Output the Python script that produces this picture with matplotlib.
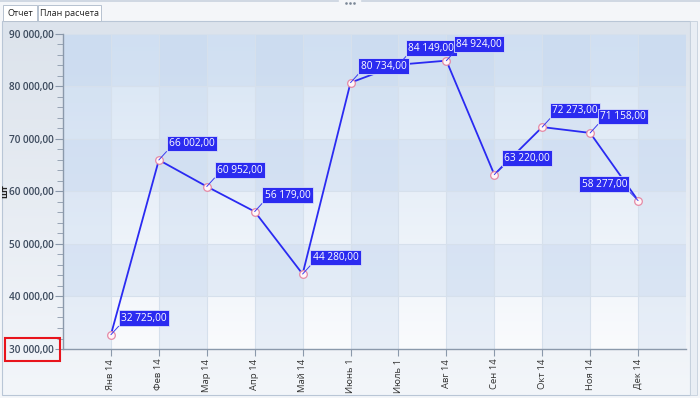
import numpy as np
import matplotlib
matplotlib.use("Agg")
import matplotlib.pyplot as plt
from matplotlib.patches import Rectangle
from matplotlib.ticker import MultipleLocator, FuncFormatter

plt.rcParams['font.family'] = ['Open Sans', 'DejaVu Sans']

# data
months = ["Янв 14", "Фев 14", "Мар 14", "Апр 14", "Май 14", "Июнь 1",
          "Июль 1", "Авг 14", "Сен 14", "Окт 14", "Ноя 14", "Дек 14"]
values = [32725, 66002, 60952, 56179, 44280, 80734,
          84149, 84924, 63220, 72273, 71158, 58277]
tabs = ["Отчет", "План расчета"]
y_label = "шт"


def fmt_num(v, pos=None):
    s = f"{v:,.2f}"
    return s.replace(",", " ").replace(".", ",")


W, H = 700, 398
fig = plt.figure(figsize=(W / 100, H / 100), dpi=100)
fig.patch.set_facecolor("#f4f6f9")

# background panel (pixel coords)
bg = fig.add_axes([0, 0, 1, 1], zorder=-10)
bg.set_xlim(0, W)
bg.set_ylim(H, 0)
bg.axis("off")
grad = np.linspace(0, 1, 256).reshape(-1, 1)
top_c = np.array([0xdc, 0xe3, 0xec]) / 255
bot_c = np.array([0xf3, 0xf6, 0xfa]) / 255
img = top_c + (bot_c - top_c) * grad
bg.imshow(img.reshape(256, 1, 3), extent=[2, 690, 395, 21], aspect="auto", zorder=0)
bg.add_patch(Rectangle((2, 21), 688, 374, fill=False, ec="#b9c6d6", lw=0.8, zorder=1))
bg.add_patch(Rectangle((690, 21), 7, 374, fc="#e9eef4", ec="#c5d0dc", lw=0.6, zorder=1))
bg.plot([0, 338], [1, 1], color="#c9d3df", lw=1.2)
bg.plot([362, 700], [1, 1], color="#c9d3df", lw=1.2)
bg.plot([346, 350, 354], [3, 3, 3], ls="none", marker="s", ms=0.8, color="#7a8796")

# tabs
tab_x = [3, 38]
tab_w = [34, 63]
for t, x0, w in zip(tabs, tab_x, tab_w):
    bg.add_patch(Rectangle((x0, 5), w, 16, fc="white", ec="#b6c2d0", lw=0.7, zorder=2))
    bg.text(x0 + w / 2, 13.5, t, ha="center", va="center", fontsize=6.5,
            color="#222222", zorder=3)

# main chart
ax = fig.add_axes([63 / W, 1 - 349 / H, 623 / W, 315 / H])
x = np.arange(len(values))
ax.set_xlim(-1, len(values))
ax.set_ylim(30000, 90000)

ptop = np.array([0xd6, 0xe4, 0xf4]) / 255
pbot = np.array([0xfa, 0xfb, 0xfd]) / 255
pimg = ptop + (pbot - ptop) * grad
ax.imshow(pimg.reshape(256, 1, 3), extent=[-1, len(values), 30000, 90000],
          aspect="auto", zorder=0)
for k in range(-1, len(values), 2):
    ax.axvspan(k, k + 1, color="#c4d6ee", alpha=0.32, lw=0, zorder=0.5)
for y0 in (40000, 60000, 80000):
    ax.axhspan(y0, y0 + 10000, color="#c4d6ee", alpha=0.32, lw=0, zorder=0.5)

ax.set_xticks(x)
ax.set_xticklabels(months, rotation=90, fontsize=6.8, color="#333333")
ax.yaxis.set_major_locator(MultipleLocator(10000))
ax.yaxis.set_minor_locator(MultipleLocator(2000))
ax.yaxis.set_major_formatter(FuncFormatter(fmt_num))
for lab in ax.get_yticklabels():
    lab.set_fontsize(7.2)
    lab.set_fontweight("semibold")
    lab.set_color("#3d4b5e")
ax.tick_params(axis="y", which="major", length=6, color="#8b99ab", pad=1)
ax.tick_params(axis="y", which="minor", length=4, color="#8b99ab")
ax.tick_params(axis="x", length=5, color="#8b99ab", pad=2)
ax.grid(True, which="major", color="#d6e0ec", lw=0.8, zorder=0.6)
for side in ("top", "right"):
    ax.spines[side].set_visible(False)
for side in ("left", "bottom"):
    ax.spines[side].set_color("#8b99ab")
    ax.spines[side].set_linewidth(1.0)
ax.set_ylabel(y_label, fontsize=6.5, fontweight="bold", color="#222222", labelpad=1)
ax.yaxis.set_label_coords(-0.087, 0.5)

ax.plot(x, values, color="#2a2af2", lw=1.3, zorder=3)
ax.plot(x, values, ls="none", marker="o", ms=5.5, mfc="#fff6f8", mec="#e58aa6",
        mew=0.9, zorder=4)

for i, v in enumerate(values):
    last = i == len(values) - 1
    off = (-11, 11) if last else (10, 11)
    ax.annotate(fmt_num(v), xy=(i, v), xytext=off, textcoords="offset pixels",
                ha="right" if last else "left", va="bottom",
                fontsize=7.3, color="white", zorder=6,
                bbox=dict(boxstyle="square,pad=0.22", fc="#2b2bf0", ec="#d8defa", lw=0.6),
                arrowprops=dict(arrowstyle="-", color="#3a3af0", lw=0.7,
                                shrinkA=0, shrinkB=0,
                                relpos=(1, 0) if last else (0, 0)))

# overlay with the red highlight box
ov = fig.add_axes([0, 0, 1, 1], zorder=10)
ov.set_xlim(0, W)
ov.set_ylim(H, 0)
ov.axis("off")
ov.patch.set_alpha(0)
ov.add_patch(Rectangle((5, 338), 55, 23, fill=False, ec="#e8141c", lw=1.5))

fig.savefig("out.png", dpi=100)
